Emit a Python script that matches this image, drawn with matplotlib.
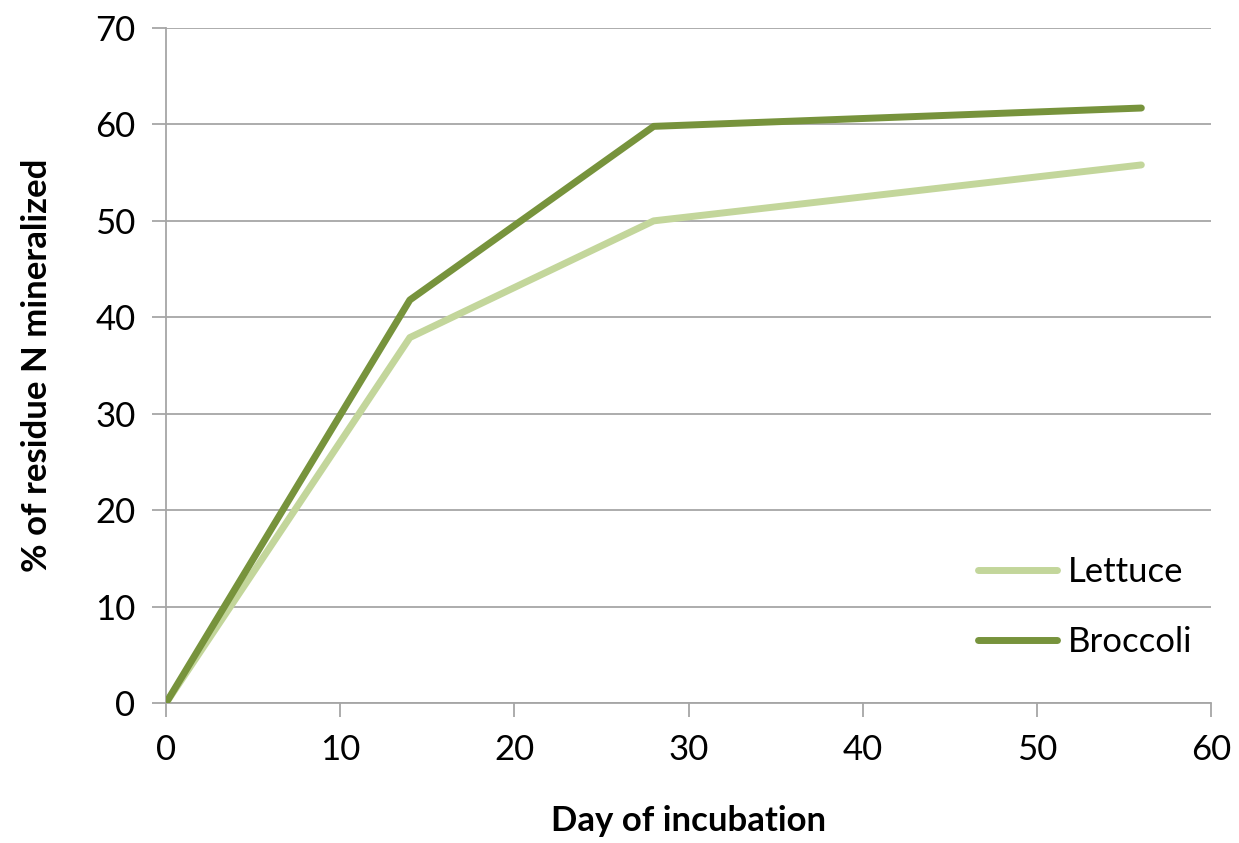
import matplotlib
matplotlib.use("Agg")
from matplotlib import pyplot as plt

days = [0, 14, 28, 56]
lettuce = [0, 37.9, 50.0, 55.8]
broccoli = [0, 41.8, 59.8, 61.7]

LETTUCE_COLOR = '#C3D69B'
BROCCOLI_COLOR = '#77933C'
GRID_COLOR = '#A6A6A6'

plt.rcParams['font.family'] = ['Lato', 'DejaVu Sans']

fig = plt.figure(figsize=(12.39, 8.43), dpi=100)
ax = fig.add_axes([0.134, 0.166, 0.8434, 0.8008])

ax.plot(days, lettuce, color=LETTUCE_COLOR, lw=5, solid_capstyle='round',
        solid_joinstyle='round', label='Lettuce', zorder=3)
ax.plot(days, broccoli, color=BROCCOLI_COLOR, lw=5, solid_capstyle='round',
        solid_joinstyle='round', label='Broccoli', zorder=4)

ax.set_xlim(0, 60)
ax.set_ylim(0, 70)
ax.set_xticks(range(0, 61, 10))
ax.set_yticks(range(0, 71, 10))

ax.yaxis.grid(True, color=GRID_COLOR, lw=1.3)
ax.set_axisbelow(True)
for side in ('top', 'right'):
    ax.spines[side].set_visible(False)
for side in ('left', 'bottom'):
    ax.spines[side].set_color(GRID_COLOR)
    ax.spines[side].set_linewidth(1.3)

ax.tick_params(axis='both', colors=GRID_COLOR, labelcolor='black',
               labelsize=25, length=10, width=1.3)
ax.tick_params(axis='y', pad=12)
ax.tick_params(axis='x', pad=12)

ax.set_xlabel('Day of incubation', fontsize=25, fontweight='bold', labelpad=28)
ax.set_ylabel('% of residue N mineralized', fontsize=25, fontweight='bold', labelpad=30)

leg = ax.legend(loc='lower right', bbox_to_anchor=(1.012, 0.02), frameon=False,
                fontsize=25, handlelength=2.3, handletextpad=0.3, labelspacing=1.1)

fig.savefig('out.png', dpi=100)
